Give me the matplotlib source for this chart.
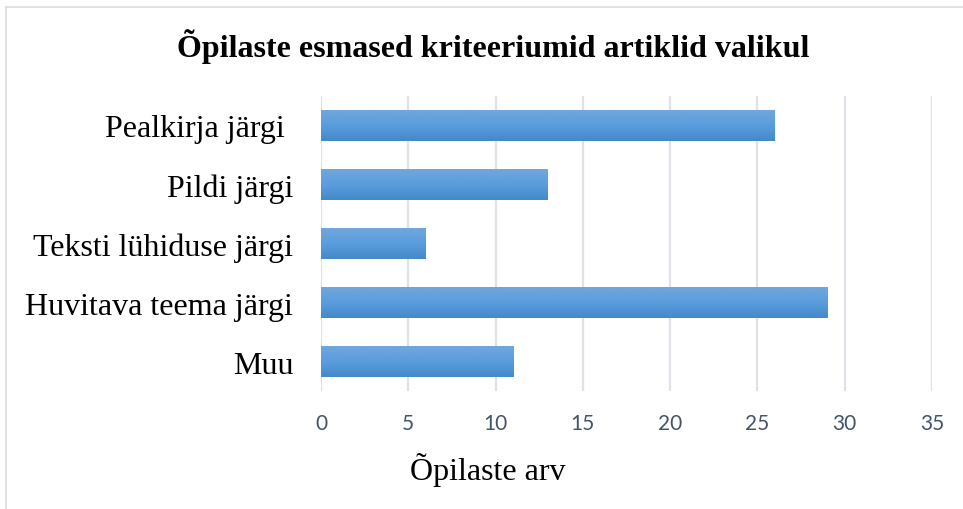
import numpy as np
import matplotlib.pyplot as plt
from matplotlib.lines import Line2D
from matplotlib.colors import LinearSegmentedColormap

# data
categories = ['Pealkirja järgi ', 'Pildi järgi', 'Teksti lühiduse järgi', 'Huvitava teema järgi', 'Muu']
values = [26, 13, 6, 29, 11]
xticks = [0, 5, 10, 15, 20, 25, 30, 35]

title = 'Õpilaste esmased kriteeriumid artiklid valikul'
xlabel = 'Õpilaste arv'

serif = ['Liberation Serif', 'DejaVu Serif']
sans = ['Lato', 'DejaVu Sans']

fig = plt.figure(figsize=(9.63, 5.10), dpi=100)
ax = fig.add_axes([321 / 963, 1 - 392 / 510, (932 - 321) / 963, (392 - 97) / 510])

ypos = np.arange(len(categories))
bars = ax.barh(ypos, values, height=0.52, color='none', edgecolor='none', zorder=2)

# gradient fill for each bar (lighter top, darker bottom)
grad = np.linspace(0, 1, 64).reshape(-1, 1)
cmap = LinearSegmentedColormap.from_list('bar', ['#70a7dd', '#5a9ddd', '#4589c8'])
for b in bars:
    x0, y0 = b.get_x(), b.get_y()
    w, h = b.get_width(), b.get_height()
    im = ax.imshow(grad, cmap=cmap, aspect='auto', extent=(x0, x0 + w, y0 + h, y0),
                   origin='upper', zorder=2, interpolation='bicubic')
    im.set_clip_path(b)

ax.set_xlim(0, 35)
ax.set_ylim(len(categories) - 0.5, -0.5)
ax.set_xticks(xticks)
ax.set_yticks(ypos)
ax.set_yticklabels(categories, fontfamily=serif, fontsize=23, color='black')
ax.set_xticklabels([str(t) for t in xticks], fontfamily=sans, fontsize=15, color='#44546a')
ax.tick_params(axis='y', length=0, pad=20)
ax.tick_params(axis='x', length=0, pad=16)
ax.grid(axis='x', color='#dde1e8', linewidth=1.6, zorder=0)
ax.set_axisbelow(True)
for s in ax.spines.values():
    s.set_visible(False)

fig.text(0.5 * (178 + 808) / 963, 1 - 47 / 510, title, ha='center', va='center',
         fontfamily=serif, fontsize=23, fontweight='bold')
fig.text(488 / 963, 1 - 470 / 510, xlabel, ha='center', va='center',
         fontfamily=serif, fontsize=23)

# chart-area border (top and left visible)
fig.add_artist(Line2D([6 / 963, 1], [1 - 8 / 510, 1 - 8 / 510], transform=fig.transFigure,
                      color='#d9dde4', linewidth=1.2))
fig.add_artist(Line2D([6 / 963, 6 / 963], [0, 1 - 8 / 510], transform=fig.transFigure,
                      color='#d9dde4', linewidth=1.2))

plt.savefig('out.png', dpi=100)
